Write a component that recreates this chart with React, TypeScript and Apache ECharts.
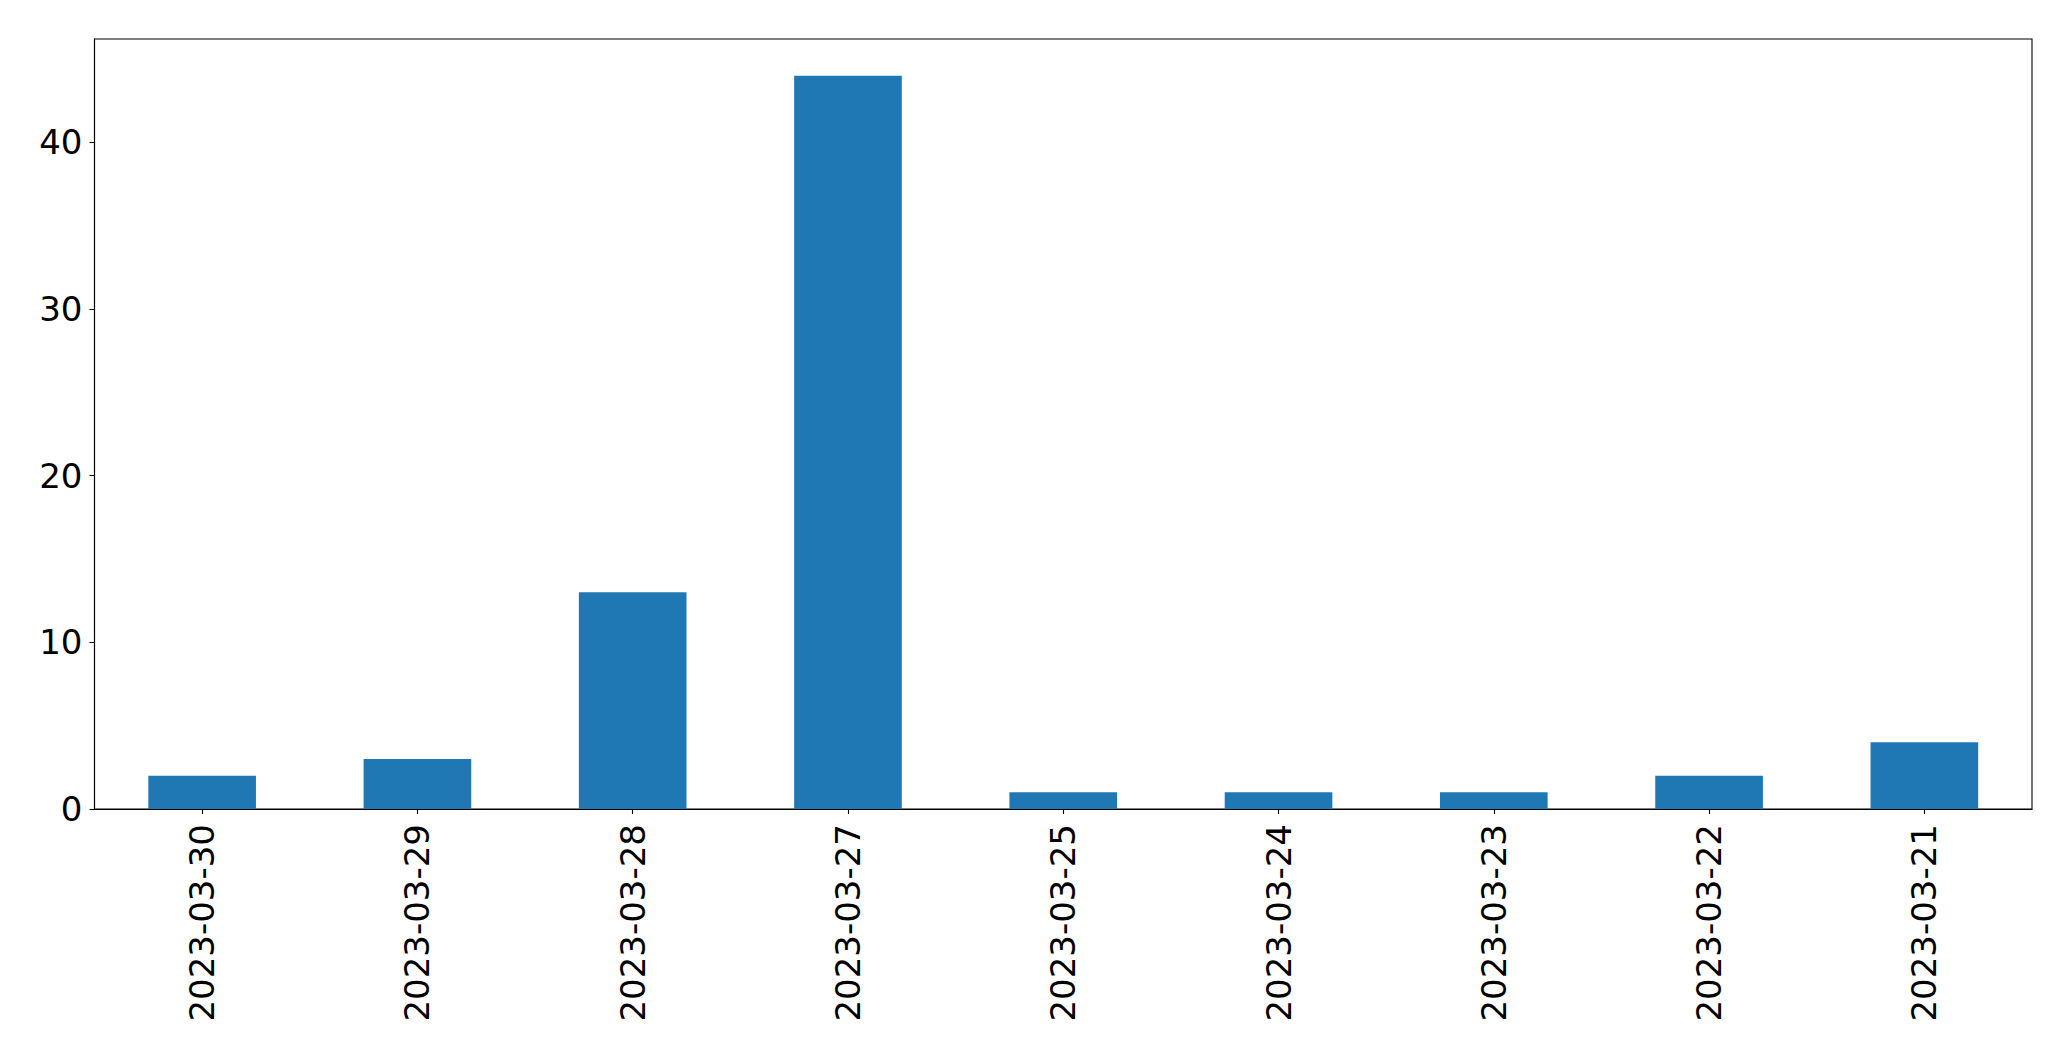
import React, { useEffect, useRef } from "react";
import * as echarts from "echarts";

const categories = [
  "2023-03-30",
  "2023-03-29",
  "2023-03-28",
  "2023-03-27",
  "2023-03-25",
  "2023-03-24",
  "2023-03-23",
  "2023-03-22",
  "2023-03-21",
];
const counts = [2, 3, 13, 44, 1, 1, 1, 2, 4];
const yTicks = [0, 10, 20, 30, 40];
const yMax = 46.2;

export default function App() {
  const ref = useRef<HTMLDivElement>(null);
  useEffect(() => {
    document.body.style.margin = "0";
    const chart = echarts.init(ref.current!, null, { renderer: "svg" });
    const font = "DejaVu Sans";
    chart.setOption({
      animation: false,
      backgroundColor: "#ffffff",
      grid: {
        left: 94.5,
        top: 39,
        right: 39,
        bottom: 252,
        show: true,
        borderColor: "#000000",
        borderWidth: 1.1,
        backgroundColor: "transparent",
      },
      xAxis: {
        type: "category",
        data: categories,
        boundaryGap: true,
        axisLine: { show: true, lineStyle: { color: "#000000", width: 1.1 } },
        axisTick: {
          show: true,
          alignWithLabel: true,
          length: 5,
          lineStyle: { color: "#000000", width: 1.1 },
        },
        axisLabel: {
          rotate: 90,
          margin: 15,
          color: "#000000",
          fontFamily: font,
          fontSize: 34,
          interval: 0,
        },
        splitLine: { show: false },
      },
      yAxis: {
        type: "value",
        min: 0,
        max: yMax,
        interval: 10,
        axisLine: { show: true, lineStyle: { color: "#000000", width: 1.1 } },
        axisTick: {
          show: true,
          length: 5,
          customValues: yTicks,
          lineStyle: { color: "#000000", width: 1.1 },
        },
        axisLabel: {
          margin: 12,
          color: "#000000",
          fontFamily: font,
          fontSize: 34,
          customValues: yTicks,
        },
        splitLine: { show: false },
      },
      series: [
        {
          type: "bar",
          data: counts,
          barWidth: "50%",
          itemStyle: { color: "#1f77b4" },
        },
      ],
    });
    return () => chart.dispose();
  }, []);
  return (
    <div
      ref={ref}
      style={{ position: "absolute", left: 0, top: 0, width: 2071, height: 1061 }}
    />
  );
}
